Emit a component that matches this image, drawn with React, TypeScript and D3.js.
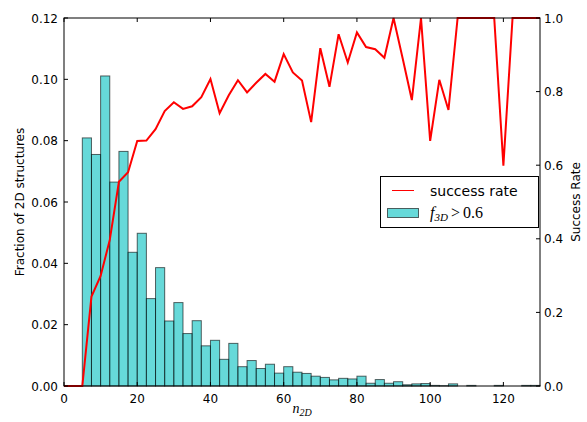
import React from 'react';
import * as d3 from 'd3';

// histogram: fraction of 2D structures per n_2D bin (bins of 2.5 starting at 5)
const binStart = 5;
const binWidth = 2.5;
const fractions = [
  0.0809, 0.0755, 0.1011, 0.0665, 0.0765, 0.0436, 0.0498, 0.0285, 0.0386, 0.0212,
  0.0272, 0.0171, 0.0213, 0.0131, 0.0149, 0.0087, 0.0139, 0.0063, 0.0083, 0.0057,
  0.0071, 0.0042, 0.0063, 0.0045, 0.0041, 0.0032, 0.0028, 0.0020, 0.0025, 0.0023,
  0.0032, 0.0009, 0.0021, 0.0009, 0.0014, 0.0004, 0.0007, 0.0008, 0.0002, 0.0001,
  0.0007, 0, 0.0002, 0, 0, 0.0002, 0, 0, 0.0002, 0.0002,
];

// success rate, sampled every 2.5 from 0
const rateStart = 0;
const successRate = [
  0, 0, 0, 0.243, 0.299, 0.397, 0.555, 0.581, 0.666, 0.667,
  0.698, 0.747, 0.771, 0.753, 0.760, 0.785, 0.834, 0.741, 0.79, 0.831,
  0.798, 0.824, 0.848, 0.827, 0.902, 0.852, 0.830, 0.717, 0.918, 0.813,
  0.956, 0.879, 0.961, 0.921, 0.915, 0.892, 1.0, 0.89, 0.777, 1.0,
  0.666, 0.832, 0.75, 1.0, 1.0, 1.0, 1.0, 1.0, 0.599, 1.0,
  1.0, 1.0, 1.0,
];

const xTicks = [0, 20, 40, 60, 80, 100, 120];
const yLeftTicks = [0, 0.02, 0.04, 0.06, 0.08, 0.1, 0.12];
const yRightTicks = [0, 0.2, 0.4, 0.6, 0.8, 1.0];

const W = 587;
const H = 422;
const M = { left: 64, right: 47, top: 18, bottom: 36 };

export default function App() {
  const x = d3.scaleLinear().domain([0, 130]).range([M.left, W - M.right]);
  const yL = d3.scaleLinear().domain([0, 0.12]).range([H - M.bottom, M.top]);
  const yR = d3.scaleLinear().domain([0, 1]).range([H - M.bottom, M.top]);

  const line = d3
    .line<number>()
    .x((_, i) => x(rateStart + i * binWidth))
    .y((d) => yR(d));

  const x0 = x.range()[0];
  const x1 = x.range()[1];
  const y0 = yL.range()[0];
  const y1 = yL.range()[1];
  const font = 'DejaVu Sans, sans-serif';
  const math = 'Liberation Serif, DejaVu Serif, serif';

  return (
    <svg
      width={W}
      height={H}
      style={{ position: 'absolute', left: 0, top: 0, background: '#fff' }}
    >
      <defs>
        <clipPath id="plot">
          <rect x={x0} y={y1 - 1} width={x1 - x0} height={y0 - y1 + 2} />
        </clipPath>
      </defs>

      <g>
        {fractions.map((f, i) => {
          const a = binStart + i * binWidth;
          return (
            <rect
              key={i}
              x={x(a)}
              y={yL(f)}
              width={x(a + binWidth) - x(a)}
              height={y0 - yL(f)}
              fill="#00bfbf"
              fillOpacity={0.6}
              stroke="#000"
              strokeOpacity={0.6}
              strokeWidth={1}
            />
          );
        })}
      </g>

      <path
        d={line(successRate) || ''}
        fill="none"
        stroke="#ff0000"
        strokeWidth={2}
        clipPath="url(#plot)"
      />

      {/* frame */}
      <rect x={x0} y={y1} width={x1 - x0} height={y0 - y1} fill="none" stroke="#000" strokeWidth={1} />

      {/* x ticks */}
      {xTicks.map((t) => (
        <g key={t}>
          <line x1={x(t)} x2={x(t)} y1={y0} y2={y0 - 4} stroke="#000" />
          <line x1={x(t)} x2={x(t)} y1={y1} y2={y1 + 4} stroke="#000" />
          <text x={x(t)} y={y0 + 17} textAnchor="middle" fontFamily={font} fontSize={12}>
            {t}
          </text>
        </g>
      ))}

      {/* left y ticks */}
      {yLeftTicks.map((t) => (
        <g key={t}>
          <line x1={x0} x2={x0 + 4} y1={yL(t)} y2={yL(t)} stroke="#000" />
          <text x={x0 - 6} y={yL(t) + 4.5} textAnchor="end" fontFamily={font} fontSize={12}>
            {d3.format('.2f')(t)}
          </text>
        </g>
      ))}

      {/* right y ticks */}
      {yRightTicks.map((t) => (
        <g key={t}>
          <line x1={x1} x2={x1 - 4} y1={yR(t)} y2={yR(t)} stroke="#000" />
          <text x={x1 + 4} y={yR(t) + 4.5} textAnchor="start" fontFamily={font} fontSize={12}>
            {d3.format('.1f')(t)}
          </text>
        </g>
      ))}

      <text
        transform={`translate(24,${(y0 + y1) / 2}) rotate(-90)`}
        textAnchor="middle"
        fontFamily={font}
        fontSize={12}
      >
        Fraction of 2D structures
      </text>
      <text
        transform={`translate(580,${(y0 + y1) / 2}) rotate(-90)`}
        textAnchor="middle"
        fontFamily={font}
        fontSize={12}
      >
        Success Rate
      </text>

      <text x={(x0 + x1) / 2} y={413} textAnchor="middle" fontFamily={math} fontStyle="italic" fontSize={14}>
        n
        <tspan fontSize={10} dy={3}>2D</tspan>
      </text>

      {/* legend */}
      <g>
        <rect x={380.5} y={176.5} width={158} height={51} fill="#fff" stroke="#000" strokeWidth={1} />
        <line x1={392} x2={414} y1={190.5} y2={190.5} stroke="#ff0000" strokeWidth={1} />
        <text x={430} y={196} fontFamily={font} fontSize={14}>
          success rate
        </text>
        <rect
          x={387.5}
          y={208.5}
          width={31}
          height={9}
          fill="#00bfbf"
          fillOpacity={0.6}
          stroke="#000"
          strokeOpacity={0.6}
        />
        <text x={430} y={218} fontFamily={math} fontSize={16}>
          <tspan fontStyle="italic">f</tspan>
          <tspan fontStyle="italic" fontSize={11} dy={3}>3D</tspan>
          <tspan dy={-3} dx={3}>&gt;</tspan>
          <tspan dx={3}>0.6</tspan>
        </text>
      </g>
    </svg>
  );
}
